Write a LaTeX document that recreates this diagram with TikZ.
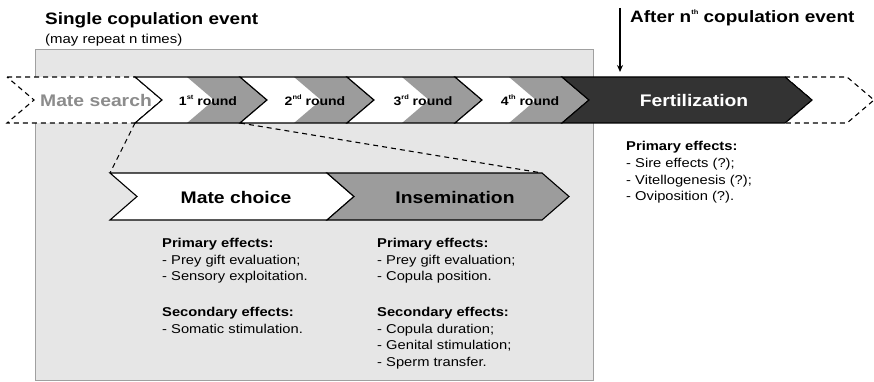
\documentclass[tikz,border=0pt]{standalone}
\usepackage{fontspec}
\setmainfont{Liberation Sans}[FakeStretch=1.15]
\usetikzlibrary{arrows.meta}
\definecolor{boxfill}{HTML}{E6E6E6}
\definecolor{boxline}{HTML}{A0A0A0}
\definecolor{midgray}{HTML}{9C9C9C}
\definecolor{darkfill}{HTML}{333333}
\definecolor{searchtext}{HTML}{8C8C8C}
\newcommand\chevshape[5]{(#1,#3) -- (#2,#3) -- (#2+27,#4) -- (#2,#5) -- (#1,#5) -- (#1+27,#4) -- cycle}
\newcommand\ordsup[1]{\raisebox{0.5em}{\fontsize{6.5}{7}\selectfont #1}}
\begin{document}
\begin{tikzpicture}[x=1pt,y=-1pt,
  outl/.style={draw=black,line width=1.1},
  dsh/.style={draw=black,line width=1.1,dash pattern=on 5pt off 4pt},
  bigbold/.style={font=\fontsize{16.8}{19}\selectfont\bfseries},
  rnd/.style={font=\fontsize{12.2}{15}\selectfont\bfseries},
  effhead/.style={font=\fontsize{12.8}{16.5}\selectfont\bfseries,anchor=base west,inner sep=0},
  efftext/.style={font=\fontsize{12.8}{16.5}\selectfont,anchor=base west,inner sep=0},
  ]
\useasboundingbox (0,0) rectangle (874,382);
% big grey box
\draw[fill=boxfill,draw=boxline,line width=1] (35,50) rectangle (593,380);
% titles
\node[anchor=base west,inner sep=0,font=\fontsize{16.5}{20}\selectfont\bfseries] (title) at (45,25) {Single copulation event};
\node[anchor=base west,inner sep=0,font=\fontsize{13}{14}\selectfont] (subtitle) at (45,44) {(may repeat n times)};
\node[anchor=base west,inner sep=0,font=\fontsize{16.5}{20}\selectfont\bfseries] (after) at (630,23) {After n\ordsup{th} copulation event};
\coordinate (arrtop) at (620,8);
\coordinate (arrbot) at (620,72);
\draw[line width=1.2,-{Stealth[length=7pt,width=6pt]}] (arrtop) -- (arrbot);
% mate search
\draw[dsh,fill=white] \chevshape{7}{135}{77}{100}{123};
\node[bigbold,text=searchtext] (search) at (96,100) {Mate search};
\coordinate (searchbr) at (135,123);
% rounds
\foreach \a/\b/\lab in {135/240/1\ordsup{st},240/347/2\ordsup{nd},347/455/3\ordsup{rd},455/562/4\ordsup{th}}{
  \fill[white] \chevshape{\a}{\b}{77}{100}{123};
  \fill[midgray] \chevshape{\b-53}{\b}{77}{100}{123};
  \draw[outl] \chevshape{\a}{\b}{77}{100}{123};
  \node[rnd] at (\b-32,100) {\lab\ round};
}
\coordinate (roundbr) at (240,123);
% fertilization
\draw[dsh,fill=white] \chevshape{785}{847}{77}{100}{123};
\draw[outl,fill=darkfill] \chevshape{562}{785}{77}{100}{123};
\node[bigbold,text=white] (fert) at (694,100) {Fertilization};
% lower chevrons
\draw[outl,fill=white] \chevshape{110}{327}{173}{196.5}{220};
\draw[outl,fill=midgray] \chevshape{327}{542}{173}{196.5}{220};
\node[bigbold] (choice) at (236,197) {Mate choice};
\node[bigbold] (insem) at (455,197) {Insemination};
\coordinate (choicetl) at (110,173);
\coordinate (insemtr) at (542,173);
\draw[dsh] (searchbr) -- (choicetl);
\draw[dsh] (roundbr) -- (insemtr);
% effects
\node[effhead] (p1) at (162,247.5) {Primary effects:};
\node[efftext] (p1a) at (162,264) {- Prey gift evaluation;};
\node[efftext] (p1b) at (162,280.5) {- Sensory exploitation.};
\node[effhead] (s1) at (162,316.5) {Secondary effects:};
\node[efftext] (s1a) at (162,333) {- Somatic stimulation.};
\node[effhead] (p2) at (377,247.5) {Primary effects:};
\node[efftext] (p2a) at (377,264) {- Prey gift evaluation;};
\node[efftext] (p2b) at (377,280.5) {- Copula position.};
\node[effhead] (s2) at (377,316.5) {Secondary effects:};
\node[efftext] (s2a) at (377,333) {- Copula duration;};
\node[efftext] (s2b) at (377,349.5) {- Genital stimulation;};
\node[efftext] (s2c) at (377,366) {- Sperm transfer.};
\node[effhead] (p3) at (626,151) {Primary effects:};
\node[efftext] (p3a) at (626,167.5) {- Sire effects (?);};
\node[efftext] (p3b) at (626,184) {- Vitellogenesis (?);};
\node[efftext] (p3c) at (626,200.5) {- Oviposition (?).};
\end{tikzpicture}
\end{document}
